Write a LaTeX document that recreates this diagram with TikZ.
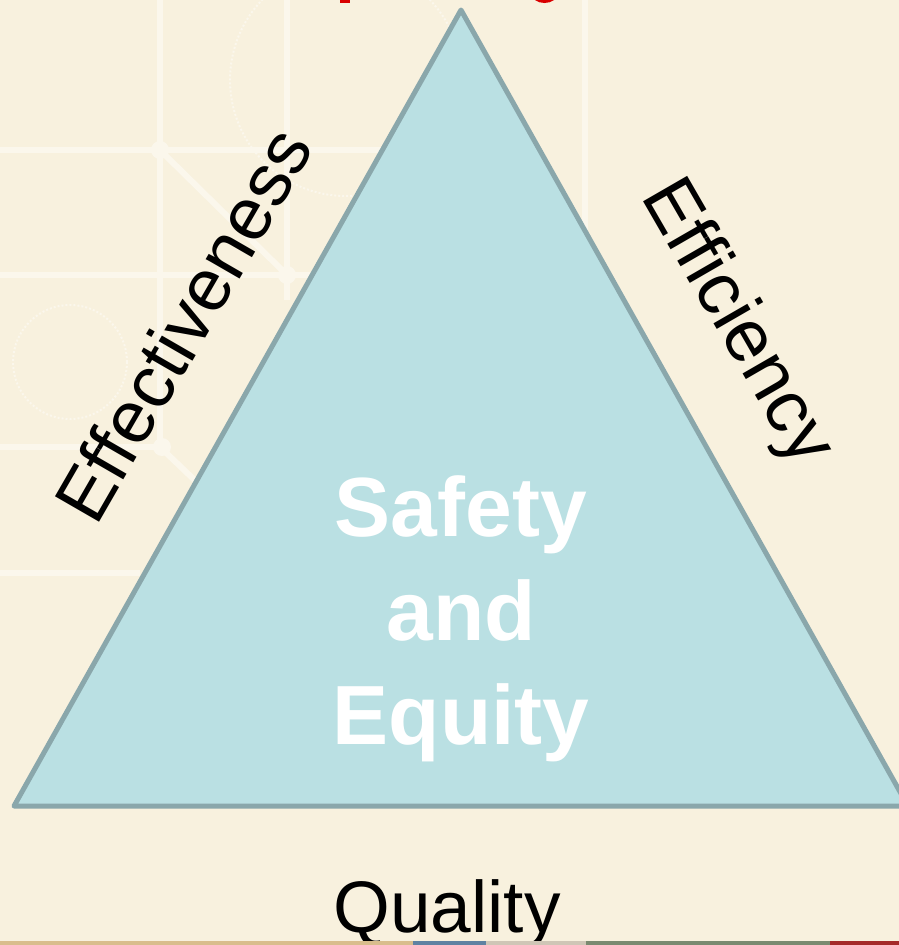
\documentclass[tikz,border=0pt]{standalone}
\usepackage{fontspec}
\setmainfont{Liberation Sans}
\definecolor{bgcream}{HTML}{F8F1DE}
\definecolor{gridwhite}{HTML}{FBF7EC}
\definecolor{trifill}{HTML}{BAE0E3}
\definecolor{triedge}{HTML}{8AA7AB}
\definecolor{striptan}{HTML}{D9BD8C}
\definecolor{stripblue}{HTML}{5F82A2}
\definecolor{stripgray}{HTML}{CFC6B6}
\definecolor{stripgreen}{HTML}{7A8A70}
\definecolor{stripred}{HTML}{A52A2A}
\definecolor{titlered}{HTML}{D90000}
\tikzset{
  gridline/.style={draw=gridwhite, line width=6pt},
  griddot/.style={fill=gridwhite},
  dotring/.style={draw=gridwhite, line width=2pt, dotted},
  sidelabel/.style={inner sep=0pt, anchor=base west, font=\fontsize{74}{74}\selectfont},
  centerlabel/.style={inner sep=0pt, anchor=base, text=white, font=\fontsize{84}{84}\selectfont\bfseries},
}
\begin{document}
\begin{tikzpicture}[x=1pt,y=-1pt]
\useasboundingbox (0,0) rectangle (899,945);
\clip (0,0) rectangle (899,945);
\fill[bgcream] (0,0) rectangle (899,945);
% faint background grid
\draw[gridline] (0,150) -- (400,150);
\draw[gridline] (0,275) -- (330,275);
\draw[gridline] (0,447) -- (165,447);
\draw[gridline] (0,573) -- (140,573);
\draw[gridline] (160,0) -- (160,447);
\draw[gridline] (287,0) -- (287,300);
\draw[gridline] (585,0) -- (585,300);
\draw[gridline] (160,150) -- (287,275);
\draw[gridline] (160,447) -- (205,490);
\fill[griddot] (160,150) circle (9);
\fill[griddot] (287,275) circle (9);
\fill[griddot] (162,447) circle (9);
\draw[dotring] (70,362) circle (57);
\draw[dotring] (346,80) circle (116);
% red title fragments at the top edge
\fill[titlered] (340,0) rectangle (350,3);
\fill[titlered] (535,0) .. controls (540,4) and (549,4) .. (554,0) -- cycle;
% triangle
\filldraw[fill=trifill, draw=triedge, line width=5pt, line join=round]
  (461,10) coordinate (apex) -- (908,806) coordinate (br) -- (14,806) coordinate (bl) -- cycle;
% labels
\node[sidelabel, rotate=60] (effect) at (96,528) {Effectiveness};
\node[sidelabel, rotate=-60] (effic) at (640,196) {Efficiency};
\node[centerlabel] (safety) at (461,536) {Safety};
\node[centerlabel] (and) at (461,640) {and};
\node[centerlabel] (equity) at (461,744) {Equity};
\node[inner sep=0pt, anchor=base, font=\fontsize{73}{73}\selectfont] (quality) at (447,932) {Quality};
% bottom colour strip
\fill[striptan] (0,941) rectangle (413,945);
\fill[stripblue] (413,941) rectangle (486,945);
\fill[stripgray] (486,941) rectangle (586,945);
\fill[stripgreen] (586,941) rectangle (830,945);
\fill[stripred] (830,941) rectangle (899,945);
\end{tikzpicture}
\end{document}
